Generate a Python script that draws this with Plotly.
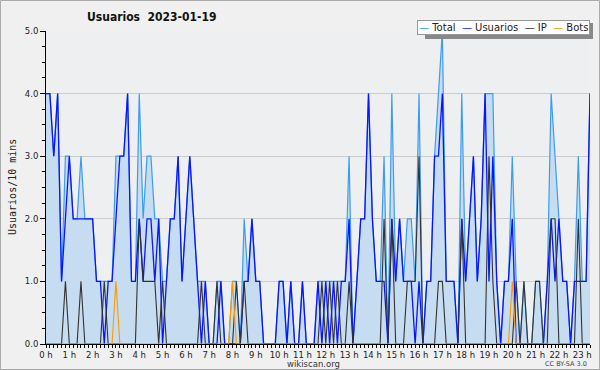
import plotly.graph_objects as go

# 10-minute slots from 0:00 to 23:20
slots = list(range(141))
hours = [s / 6 for s in slots]
hour_ticks = list(range(24))
hour_labels = [f"{h} h" for h in hour_ticks]

usuarios = [4,4,3,4,1,2,3,2,2,2,
            2,2,2,1,1,0,1,1,2,3,
            3,4,1,1,2,1,2,2,1,2,
            0,1,2,2,3,1,2,3,2,1,
            0,1,0,0,0,1,0,0,0,0,
            0,1,1,2,1,1,0,0,0,0,
            1,1,0,1,0,0,1,0,0,0,
            1,0,1,0,1,0,1,1,2,0,
            1,2,2,4,2,1,1,1,0,2,
            1,2,1,1,1,0,1,0,1,1,
            3,3,4,1,1,1,0,2,1,2,
            3,1,2,4,1,3,1,0,1,1,
            2,0,0,0,0,0,0,0,0,1,
            2,1,2,1,1,0,1,1,1,1,4]

ip = [0,0,0,0,0,1,0,0,0,1,
      0,0,0,0,0,1,0,0,0,0,
      0,0,0,0,2,1,1,1,1,0,
      1,0,0,0,0,0,0,0,0,0,
      1,0,0,0,1,0,0,0,0,1,
      0,1,0,0,0,0,0,0,0,0,
      0,0,0,0,0,0,0,0,0,0,
      0,1,0,1,0,1,0,0,1,0,
      0,0,0,0,0,0,0,2,0,2,
      0,0,0,1,1,1,3,0,0,0,
      0,1,1,0,0,0,0,2,0,0,
      0,0,0,0,3,1,0,0,0,0,
      0,1,0,1,0,0,1,1,0,0,
      2,2,0,0,0,0,0,2,0,0,0]

bots = [0,0,0,0,0,0,0,0,0,0,
        0,0,0,0,0,0,0,0,1,0,
        0,0,0,0,0,0,0,0,0,0,
        0,0,0,0,0,0,0,0,0,0,
        0,0,0,0,0,0,0,0,1,0,
        0,0,0,0,0,0,0,0,0,0,
        0,0,0,0,0,0,0,0,0,0,
        0,0,0,0,0,0,0,0,0,0,
        0,0,0,0,0,0,0,0,0,0,
        0,0,0,0,0,0,0,0,0,0,
        0,0,0,0,0,0,0,0,0,0,
        0,0,0,0,0,0,0,0,0,0,
        1,0,0,0,0,0,0,0,0,0,
        0,0,0,0,0,0,0,0,0,0,0]

total = [4,4,3,4,1,3,3,2,2,3,
         2,2,2,1,1,1,1,1,3,3,
         3,4,1,1,4,2,3,3,2,2,
         1,1,2,2,3,1,2,3,2,1,
         1,1,0,0,1,1,0,0,1,1,
         0,2,1,2,1,1,0,0,0,0,
         1,1,0,1,0,0,1,0,0,0,
         1,1,1,1,1,1,1,1,3,0,
         1,2,2,4,2,1,1,3,0,4,
         1,2,1,2,2,1,4,0,1,1,
         3,4,5,1,1,1,0,4,1,2,
         3,1,2,4,4,4,1,0,1,1,
         3,1,0,1,0,0,1,1,0,1,
         4,3,2,1,1,0,1,3,1,1,4]

C_TOTAL = "#3d9cf0"
C_USU = "#0a14ff"
C_IP = "#333333"
C_BOTS = "#ff9a00"

fig = go.Figure()
fig.add_trace(go.Scatter(x=hours, y=total, mode="lines", name="Total",
                         line=dict(color=C_TOTAL, width=1.2),
                         fill="tozeroy", fillcolor="#c6dcf0"))
fig.add_trace(go.Scatter(x=hours, y=usuarios, mode="lines", name="Usuarios",
                         line=dict(color=C_USU, width=1.3)))
fig.add_trace(go.Scatter(x=hours, y=ip, mode="lines", name="IP",
                         line=dict(color=C_IP, width=1.1)))
fig.add_trace(go.Scatter(x=hours, y=bots, mode="lines", name="Bots",
                         line=dict(color=C_BOTS, width=1.1)))

L, R, T, B = 46, 590, 31, 344
W, H = R - L, B - T
def px(x):
    return (x - L) / W
def py(y):
    return (B - y) / H

fig.update_layout(
    width=600, height=370,
    margin=dict(l=L, r=600 - R, t=T, b=370 - B, autoexpand=False),
    paper_bgcolor="#f0f0f0", plot_bgcolor="#eeeff1",
    showlegend=False, hovermode=False,
    font=dict(family="DejaVu Sans", size=9, color="#222222"),
)
fig.update_xaxes(range=[0, 140 / 6], tickvals=hour_ticks, ticktext=hour_labels,
                 ticks="outside", ticklen=3, tickcolor="#000", tickwidth=1,
                 showline=True, linecolor="#000", linewidth=1,
                 showgrid=False, zeroline=False, automargin=False,
                 tickfont=dict(size=8.5, color="#222"),
                 minor=dict(dtick=1 / 6, tick0=0, ticks="outside", ticklen=3,
                            tickcolor="#000", showgrid=False))
fig.update_yaxes(range=[0, 5], dtick=1, tickformat=".1f",
                 ticks="outside", ticklen=5, tickcolor="#000",
                 showline=True, linecolor="#000", linewidth=1,
                 gridcolor="#cccccc", gridwidth=1, zeroline=False, automargin=False,
                 tickfont=dict(size=8.5, color="#222"),
                 minor=dict(dtick=0.25, ticks="outside", ticklen=3,
                            tickcolor="#000", showgrid=False))

shapes = [
    dict(type="rect", xref="paper", yref="paper", layer="below",
         x0=px(0.5), x1=px(599.5), y0=py(369.5), y1=py(0.5),
         line=dict(color="#aaaaaa", width=1), fillcolor="rgba(0,0,0,0)"),
    dict(type="rect", xref="paper", yref="paper", layer="above",
         x0=px(425), x1=px(593), y0=py(39), y1=py(23),
         line=dict(width=0), fillcolor="#888888"),
]
fig.update_layout(shapes=shapes)

legend_text = (f'<span style="color:{C_TOTAL}">—</span> Total  '
               f'<span style="color:{C_USU}">—</span> Usuarios  '
               f'<span style="color:{C_IP}">—</span> IP  '
               f'<span style="color:{C_BOTS}">—</span> Bots')

ann = [
    dict(text="<b>Usuarios  2023-01-19</b>", x=px(85), y=py(17), xref="paper", yref="paper",
         xanchor="left", yanchor="middle", showarrow=False,
         font=dict(size=12, color="#111", family="DejaVu Sans Condensed")),
    dict(text="Usuarios/10 mins", x=px(12), y=py(187), xref="paper", yref="paper",
         xanchor="center", yanchor="middle", textangle=-90, showarrow=False,
         font=dict(size=10, color="#222", family="DejaVu Sans Mono")),
    dict(text="wikiscan.org", x=px(313), y=py(364), xref="paper", yref="paper",
         xanchor="center", yanchor="middle", showarrow=False,
         font=dict(size=8.5, color="#333")),
    dict(text="CC BY-SA 3.0", x=px(589), y=py(364.5), xref="paper", yref="paper",
         xanchor="right", yanchor="middle", showarrow=False,
         font=dict(size=6.5, color="#444")),
    dict(text=legend_text, x=px(590), y=py(20), xref="paper", yref="paper",
         xanchor="right", yanchor="top", showarrow=False,
         bgcolor="#ffffff", bordercolor="#999999", borderwidth=1, borderpad=1,
         font=dict(size=10, color="#222")),
]
fig.update_layout(annotations=ann)

fig.write_html("out.html", config={"displayModeBar": False, "staticPlot": True},
               post_script="document.body.style.margin='0';")
